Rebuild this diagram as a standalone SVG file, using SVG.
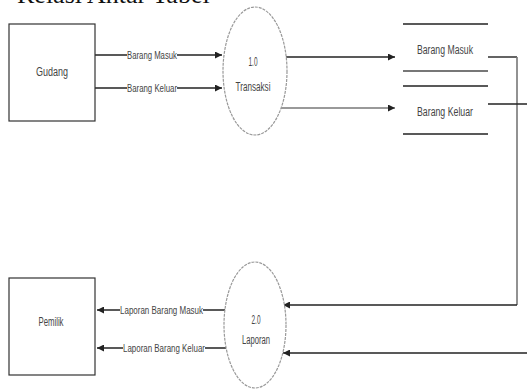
<svg xmlns="http://www.w3.org/2000/svg" width="527" height="390" viewBox="0 0 527 390">
<style>
.title{font-family:"Liberation Serif","Times New Roman",serif;font-size:26px;fill:#111}
.t{font-family:"Liberation Sans",Arial,sans-serif;fill:#444;text-anchor:middle}
.box{fill:#fff;stroke:#333;stroke-width:1.2}
.proc{fill:#fff;stroke:#999;stroke-width:1.2;stroke-dasharray:3 1}
.ln{fill:none;stroke:#222;stroke-width:1.4}
.lg{fill:none;stroke:#777;stroke-width:1.6}
.st{stroke:#222;stroke-width:1.4}
.bg{fill:#fff}
</style>
<defs>
<marker id="ah" viewBox="0 0 10 10" refX="10" refY="5" markerWidth="7" markerHeight="7" markerUnits="userSpaceOnUse" orient="auto">
<path d="M0,0 L10,5 L0,10 z" fill="#222"/>
</marker>
</defs>
<text class="title" x="17" y="3">Relasi Antar Tabel</text>

<g id="connectors">
<line class="ln" x1="95" y1="55" x2="222" y2="55" marker-end="url(#ah)"/>
<line class="ln" x1="95" y1="88" x2="222" y2="88" marker-end="url(#ah)"/>
<line class="ln" x1="286" y1="57" x2="395" y2="57" marker-end="url(#ah)"/>
<line class="lg" x1="281" y1="108" x2="395" y2="108" marker-end="url(#ah)"/>
<polyline class="ln" points="488,57 517,57"/>
<line class="lg" x1="517" y1="57" x2="517" y2="305"/>
<polyline class="ln" points="517,305 283,305" marker-end="url(#ah)"/>
<polyline class="ln" points="488,104 527,104"/>
<line class="ln" x1="527" y1="353" x2="283" y2="353" marker-end="url(#ah)"/>
<line class="ln" x1="226" y1="310" x2="97" y2="310" marker-end="url(#ah)"/>
<line class="ln" x1="226" y1="348" x2="97" y2="348" marker-end="url(#ah)"/>
<rect class="bg" x="127" y="49" width="50" height="12"/>
<text class="t" x="152" y="59" font-size="11" textLength="50" lengthAdjust="spacingAndGlyphs">Barang Masuk</text>
<rect class="bg" x="127" y="82" width="50" height="12"/>
<text class="t" x="152" y="92" font-size="11" textLength="50" lengthAdjust="spacingAndGlyphs">Barang Keluar</text>
<rect class="bg" x="120" y="304" width="83" height="12"/>
<text class="t" x="161.5" y="314" font-size="11" textLength="83" lengthAdjust="spacingAndGlyphs">Laporan Barang Masuk</text>
<rect class="bg" x="123" y="342" width="82" height="12"/>
<text class="t" x="164" y="352" font-size="11" textLength="82" lengthAdjust="spacingAndGlyphs">Laporan Barang Keluar</text>
</g>

<g id="gudang">
<rect class="box" x="9" y="24" width="86" height="97"/>
<text class="t" x="52" y="76" font-size="12" textLength="32" lengthAdjust="spacingAndGlyphs">Gudang</text>
</g>

<g id="pemilik">
<rect class="box" x="9" y="278" width="86" height="97"/>
<text class="t" x="51" y="326" font-size="12" textLength="25" lengthAdjust="spacingAndGlyphs">Pemilik</text>
</g>

<g id="p1">
<ellipse class="proc" cx="255" cy="71" rx="32" ry="64"/>
<text class="t" x="253" y="66" font-size="12" textLength="9" lengthAdjust="spacingAndGlyphs">1.0</text>
<text class="t" x="253" y="91" font-size="12" textLength="35" lengthAdjust="spacingAndGlyphs">Transaksi</text>
</g>

<g id="p2">
<ellipse class="proc" cx="255" cy="325" rx="31" ry="63"/>
<text class="t" x="256" y="324" font-size="12" textLength="9" lengthAdjust="spacingAndGlyphs">2.0</text>
<text class="t" x="256" y="344" font-size="12" textLength="28" lengthAdjust="spacingAndGlyphs">Laporan</text>
</g>

<g id="store-masuk">
<line class="st" x1="403" y1="24" x2="488" y2="24"/>
<line x1="403" y1="71" x2="488" y2="71" stroke="#777" stroke-width="2.2"/>
<text class="t" x="445" y="54" font-size="12" textLength="56" lengthAdjust="spacingAndGlyphs">Barang Masuk</text>
</g>

<g id="store-keluar">
<line class="st" x1="403" y1="86" x2="488" y2="86"/>
<line class="st" x1="403" y1="134" x2="488" y2="134"/>
<text class="t" x="445" y="116" font-size="12" textLength="56" lengthAdjust="spacingAndGlyphs">Barang Keluar</text>
</g>
</svg>
